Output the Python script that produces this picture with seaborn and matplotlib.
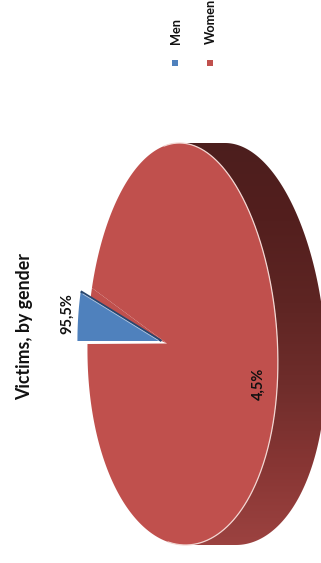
import numpy as np
import matplotlib
matplotlib.use("Agg")
import matplotlib.pyplot as plt
from matplotlib.patches import Polygon, Rectangle
from matplotlib.colors import LinearSegmentedColormap
import seaborn as sns

# data
categories = ["Men", "Women"]
shares = [4.5, 95.5]
chart_title = "Victims, by gender"

sns.set_style("white")
plt.rcParams["font.family"] = ["Lato", "DejaVu Sans"]
colors = sns.color_palette(["#4F81BD", "#C0504D"])

W, H = 321, 563
fig = plt.figure(figsize=(W / 100, H / 100), dpi=100)
ax = fig.add_axes([0, 0, 1, 1])

# pie geometry (chart is turned a quarter turn, depth runs to the right)
cx, cy, rx, ry = 182.5, 344.0, 95.0, 201.0
persp, shear = 0.06, 0.015          # slight 3-D perspective of the face
depth0, depth_k = 48.0, 0.012       # wall thickness grows toward the bottom


def rim(t_deg, offset=0.0):
    t = np.radians(np.asarray(t_deg, dtype=float))
    dy = -ry * np.sin(t)
    f = 1.0 + persp * dy / ry
    x = cx + rx * np.cos(t) * f + shear * dy
    if offset:
        x = x + offset + depth_k * dy
    return np.column_stack([x, cy + dy])


def flat_rim(t_deg, x0, y0, sx, sy):
    t = np.radians(np.asarray(t_deg, dtype=float))
    return np.column_stack([x0 + sx * np.cos(t), y0 - sy * np.sin(t)])


sweep = [360.0 * v / sum(shares) for v in shares]
start = 180.0
men_a0, men_a1 = start, start - sweep[0]
wom_a0, wom_a1 = men_a1, men_a1 - sweep[1]

# side wall with vertical shading
wall = np.vstack([rim(np.linspace(90, -90, 160)),
                  rim(np.linspace(-90, 90, 160), offset=depth0)])
wall_patch = Polygon(wall, closed=True, facecolor="none", edgecolor="none")
ax.add_patch(wall_patch)
shade = LinearSegmentedColormap.from_list(
    "wall", ["#4c1e1d", "#531f1e", "#5e2523", "#6f2d2b", "#883634", "#9d4341"])
grad = np.linspace(0, 1, 256).reshape(-1, 1)
img = ax.imshow(grad, cmap=shade, origin="upper", aspect="auto",
                extent=(cx - 5, W + 20, cy + ry + 5, cy - ry - 5), zorder=1)
img.set_clip_path(wall_patch)

# full face outline, used for clipping
face_clip = Polygon(rim(np.linspace(0, 360, 400)), closed=True,
                    facecolor="none", edgecolor="none")
ax.add_patch(face_clip)

# Women face (large slice)
vx, vy = 167.0, 343.5
big = np.vstack([[vx, vy], rim(np.linspace(wom_a0, wom_a1, 500))])
ax.add_patch(Polygon(big, closed=True, facecolor=colors[1], edgecolor="none", zorder=2))

# exploded Men slice, slightly smaller through perspective
scx, scy, s = 161.5, 341.0, 0.885
cut_big = rim([men_a1])[0]
cut_small = flat_rim([men_a1], scx, scy, rx * s, ry * s)[0]
cut_wall = Polygon(np.array([[vx, vy], cut_big, cut_small, [scx, scy]]), closed=True,
                   facecolor=colors[1], edgecolor="none", zorder=2)
ax.add_patch(cut_wall)
cut_wall.set_clip_path(face_clip)

small = np.vstack([[scx, scy], flat_rim(np.linspace(men_a0, men_a1, 40),
                                        scx, scy, rx * s, ry * s)])
ax.add_patch(Polygon(small, closed=True, facecolor=colors[0], edgecolor="none", zorder=3))
ax.plot([scx, cut_small[0]], [scy, cut_small[1]], color="#27466e", lw=1.6,
        solid_capstyle="butt", zorder=4)
ax.plot([scx - 3, cut_small[0] + 2], [scy - 0.5, cut_small[1] + 2.5],
        color="#b8cbe4", lw=0.6, zorder=4)

# light rim between face and wall
edge = rim(np.linspace(100, -100, 300))
ax.plot(edge[:, 0], edge[:, 1], color="#f2d6d2", lw=0.9, zorder=5)


# data labels
def pct(v):
    return f"{v:.1f}%".replace(".", ",")


men_mid = np.radians((men_a0 + men_a1) / 2)
men_spot = (scx + 1.13 * rx * s * np.cos(men_mid), scy - 1.1 * ry * s * np.sin(men_mid))
wom_mid = np.radians(-14.0)
wom_spot = (cx + 0.83 * rx * np.cos(wom_mid), cy - 0.82 * ry * np.sin(wom_mid))
spots = {"Men": wom_spot, "Women": men_spot}
for name, v in zip(categories, shares):
    x, y = spots[name]
    ax.text(x, y, pct(v), rotation=90, ha="center", va="center",
            fontsize=10.5, fontweight="bold", color="#111111", zorder=6)

# title
ax.text(25, 327, chart_title, rotation=90, ha="center", va="center",
        fontsize=12.8, fontweight="bold", color="#111111")

# legend
leg_x = [175.0, 210.0]
for name, col, x in zip(categories, colors, leg_x):
    ax.add_patch(Rectangle((x - 3.3, 60), 6.6, 6.2, facecolor=col, edgecolor="none"))
    ax.text(x + 1, 44, name, rotation=90, ha="center", va="bottom",
            fontsize=9.2, fontweight="bold", color="#111111")

ax.set_xlim(0, W)
ax.set_ylim(H, 0)
ax.axis("off")
fig.savefig("out.png", dpi=100, facecolor="white")
